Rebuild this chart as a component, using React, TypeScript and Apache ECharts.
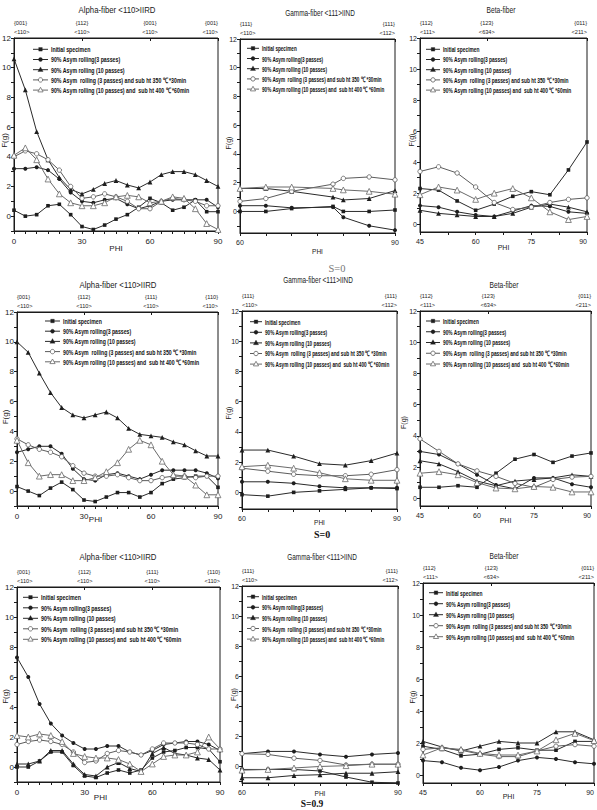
import React, { useEffect, useRef } from "react";
import * as echarts from "echarts";

// ---- legend / series names ----
const SERIES_NAMES = [
  "Initial specimen",
  "90% Asym rolling(3 passes)",
  "90% Asym rolling (10 passes)",
  "90% Asym  rolling (3 passes) and sub ht 350 ℃ *30min",
  "90% Asym rolling (10 passes) and  sub ht 400 ℃ *60min",
];

// ---- PHI positions ----
const ALPHA_PHI = [0, 5, 10, 15, 20, 25, 30, 35, 40, 45, 50, 55, 60, 65, 70, 75, 80, 85, 90];
const GAMMA_PHI = [60, 65, 70, 75, 80, 85, 90];
const GAMMA_PHI_FIRST = [60, 65, 70, 78, 80, 85, 90];
const BETA_PHI = [45, 50, 55, 60, 65, 70, 75, 80, 85, 90];

// ---- tick / label values ----
const ALPHA_TICKS = [0, 5, 10, 15, 20, 25, 30, 35, 40, 45, 50, 55, 60, 65, 70, 75, 80, 85, 90];
const ALPHA_LABELS = [0, 30, 60, 90];
const GAMMA_TICKS = [60, 65, 70, 75, 80, 85, 90];
const GAMMA_LABELS = [60, 90];
const BETA_TICKS = [45, 52.5, 60, 67.5, 75, 82.5, 90];
const BETA_LABELS = [45, 60, 75, 90];
const Y_TICKS = [-1, 0, 1, 2, 3, 4, 5, 6, 7, 8, 9, 10, 11, 12];
const Y_LABELS = [0, 2, 4, 6, 8, 10, 12];

// ---- orientation labels on the top axes ----
const ALPHA_TOP_POS = [0, 30, 60, 90];
const ALPHA_TOP_FIRST = ["{001}\n<110>", "{112}\n<110>", "{001}\n<110>", "{001}\n<110>"];
const ALPHA_TOP = ["{001}\n<110>", "{112}\n<110>", "{111}\n<110>", "{110}\n<110>"];
const GAMMA_TOP_POS = [60, 90];
const GAMMA_TOP = ["{111}\n<110>", "{111}\n<112>"];
const BETA_TOP_POS = [45, 63, 90];
const BETA_TOP = ["{112}\n<111>", "{123}\n<634>", "{011}\n<211>"];

// ---- F(g), first row ----
const a1Initial = [0.4, 0.0, 0.1, 0.7, 0.8, 0.1, -0.7, -0.9, -0.6, -0.2, 0.1, 0.6, 1.2, 0.9, 0.4, 0.6, 1.1, 0.3, 0.3];
const a1Pass3 = [3.2, 3.2, 3.3, 3.1, 2.5, 1.6, 1.0, 0.9, 1.1, 1.2, 0.8, 0.5, 0.7, 1.0, 1.1, 1.1, 1.1, 1.1, 0.6];
const a1Pass10 = [10.6, 8.5, 5.7, 3.8, 2.6, 1.8, 1.5, 1.8, 2.2, 2.4, 2.1, 1.9, 2.3, 2.8, 3.0, 3.0, 2.8, 2.4, 2.0];
const a1Pass3Ht = [4.0, 4.4, 4.2, 3.8, 3.1, 2.0, 1.2, 1.3, 1.5, 1.3, 1.0, 0.5, 0.5, 1.0, 1.2, 1.1, 1.0, 0.7, 0.7];
const a1Pass10Ht = [4.1, 4.6, 3.8, 2.5, 1.5, 0.9, 0.7, 0.7, 0.9, 1.3, 1.4, 1.3, 0.9, 1.0, 1.3, 1.2, 0.5, -0.5, -0.9];

const g1Initial = [0.0, 0.0, 0.2, 0.35, 0.0, 0.0, 0.1];
const g1Pass3 = [0.4, 0.4, 0.25, 0.3, -0.4, -1.0, -1.3];
const g1Pass10 = [1.6, 1.6, 1.4, 1.0, 0.8, 0.9, 1.45];
const g1Pass3Ht = [0.7, 0.9, 1.4, 1.9, 2.3, 2.4, 2.2];
const g1Pass10Ht = [1.6, 1.7, 1.7, 1.6, 1.5, 1.4, 1.2];

const b1Initial = [2.3, 2.2, 1.5, 0.9, 1.3, 1.8, 2.1, 1.9, 3.5, 5.3];
const b1Pass3 = [1.2, 1.1, 0.8, 0.6, 0.5, 0.85, 1.2, 1.15, 0.8, 0.7];
const b1Pass10 = [0.9, 0.7, 0.6, 0.5, 0.5, 0.7, 1.1, 1.3, 1.1, 0.8];
const b1Pass3Ht = [3.4, 3.7, 3.3, 2.4, 1.4, 0.95, 1.1, 1.4, 1.6, 1.7];
const b1Pass10Ht = [1.9, 2.4, 2.2, 1.6, 2.0, 2.3, 1.7, 0.8, 0.3, 0.5];

// ---- F(g), second row ----
const a2Initial = [0.3, 0.0, -0.3, 0.2, 0.6, 0.1, -0.6, -0.7, -0.4, -0.1, -0.1, -0.4, -0.1, 0.5, 0.8, 0.9, 1.0, 1.0, 0.25];
const a2Pass3 = [2.6, 2.8, 3.0, 3.0, 2.5, 1.5, 0.8, 0.7, 1.1, 1.2, 1.0, 0.8, 1.1, 1.4, 1.4, 1.4, 1.4, 1.2, 0.85];
const a2Pass10 = [10.0, 9.3, 7.9, 6.6, 5.6, 5.1, 4.9, 5.1, 5.3, 4.9, 4.2, 3.8, 3.7, 3.6, 3.3, 3.1, 2.7, 2.35, 2.35];
const a2Pass3Ht = [3.5, 3.1, 2.8, 2.6, 2.3, 1.7, 1.2, 1.0, 1.0, 1.1, 0.9, 0.7, 0.7, 0.9, 1.0, 1.0, 0.9, 1.0, 1.0];
const a2Pass10Ht = [3.4, 1.9, 1.0, 1.1, 1.1, 0.7, 0.7, 0.9, 1.3, 1.9, 2.8, 3.4, 3.1, 2.0, 1.1, 1.0, 0.4, -0.25, -0.25];

const g2Initial = [-0.15, -0.25, 0.0, 0.1, 0.2, 0.3, 0.25];
const g2Pass3 = [0.7, 0.7, 0.6, 0.4, 0.3, 0.3, 0.3];
const g2Pass10 = [2.8, 2.8, 2.4, 1.9, 1.8, 2.1, 2.6];
const g2Pass3Ht = [1.6, 1.4, 1.2, 1.1, 1.1, 1.2, 1.5];
const g2Pass10Ht = [1.7, 1.8, 1.6, 1.3, 0.9, 0.8, 0.8];

const b2Initial = [0.7, 0.7, 0.8, 0.7, 1.6, 2.5, 2.8, 2.3, 2.7, 2.9];
const b2Pass3 = [3.0, 2.8, 2.2, 1.5, 0.85, 0.6, 1.3, 1.3, 0.9, 0.7];
const b2Pass10 = [2.4, 2.2, 1.7, 1.1, 0.8, 1.1, 1.2, 1.3, 1.5, 1.4];
const b2Pass3Ht = [3.8, 3.0, 2.2, 1.75, 1.4, 0.95, 0.7, 1.2, 1.35, 1.4];
const b2Pass10Ht = [1.6, 1.7, 1.5, 1.0, 0.65, 0.6, 0.75, 0.7, 0.4, 0.4];

// ---- F(g), third row ----
const a3Initial = [0.0, 0.0, 0.4, 1.0, 1.0, 0.1, -0.6, -0.7, -0.4, -0.2, -0.4, -0.2, 0.6, 1.0, 1.1, 1.3, 1.3, 1.2, 0.35];
const a3Pass3 = [7.3, 6.0, 4.2, 2.9, 2.1, 1.6, 1.2, 1.2, 1.4, 1.4, 1.0, 0.8, 1.1, 1.5, 1.6, 1.7, 1.7, 1.5, 1.1];
const a3Pass10 = [0.2, 0.2, 0.4, 1.1, 1.1, 0.2, -0.5, -0.6, 0.0, 0.3, -0.1, -0.3, 0.9, 1.3, 0.9, 0.8, 0.6, 0.5, -0.2];
const a3Pass3Ht = [1.5, 1.7, 1.8, 1.7, 1.5, 1.0, 0.3, 0.4, 0.9, 1.1, 1.0, 0.8, 1.2, 1.6, 1.6, 1.6, 1.5, 1.2, 1.2];
const a3Pass10Ht = [2.1, 2.0, 2.2, 2.1, 1.7, 0.9, 0.7, 0.6, 0.6, 0.5, 0.2, -0.3, 0.2, 0.7, 0.8, 0.8, 1.0, 2.0, 1.2];

const g3Initial = [-0.2, -0.2, -0.2, -0.3, -0.7, -1.05, -1.1];
const g3Pass3 = [0.85, 1.0, 1.0, 0.8, 0.65, 0.8, 0.9];
const g3Pass10 = [-0.75, -0.75, -0.6, -0.55, -0.45, -0.45, -0.35];
const g3Pass3Ht = [0.85, 0.8, 0.55, 0.4, 0.1, 0.15, 0.15];
const g3Pass10Ht = [-0.25, -0.2, -0.1, 0.0, 0.05, 0.15, 0.15];

const b3Initial = [1.8, 1.6, 1.2, 1.3, 1.6, 1.7, 1.55, 1.55, 2.1, 2.1];
const b3Pass3 = [0.9, 0.8, 0.45, 0.3, 0.5, 0.9, 1.1, 1.0, 0.8, 0.7];
const b3Pass10 = [2.1, 1.75, 1.5, 1.8, 2.1, 2.0, 2.0, 2.7, 2.7, 2.2];
const b3Pass3Ht = [1.6, 1.7, 1.55, 1.3, 1.15, 1.15, 1.5, 1.8, 1.9, 1.8];
const b3Pass10Ht = [1.25, 1.7, 1.6, 1.35, 1.25, 1.25, 1.5, 2.2, 2.6, 2.15];

// ---- styling ----
const INK = "#1b1b1b";
const FONT = "'Liberation Sans', Arial, Helvetica, sans-serif";
const SERIF = "'Liberation Serif', 'Times New Roman', 'DejaVu Serif', serif";

const SERIES_STYLES = [
  { symbol: "rect", size: 3.6, color: "#1e1e1e", line: "#2a2a2a", open: false },
  { symbol: "circle", size: 4, color: "#1e1e1e", line: "#2a2a2a", open: false },
  { symbol: "triangle", size: 4.8, color: "#1e1e1e", line: "#2a2a2a", open: false },
  { symbol: "circle", size: 4.4, color: "#5c5c5c", line: "#5c5c5c", open: true },
  { symbol: "triangle", size: 5.8, color: "#6a6a6a", line: "#6a6a6a", open: true },
];

type Panel = {
  x: number[];
  values: number[][];
  xMin: number;
  xMax: number;
  yMin: number;
  xTicks: number[];
  xLabels: number[];
  topPos: number[];
  topText: string[];
  box: number[];
  // key: line-sample left, first row centre, row step, sample length, text scale
  key: number[];
  tickFont: number;
  nameFont: number;
  // axis names: [yNameGap, yNameShiftDown, xNameGap, xNameShiftLeft]
  names: number[];
};

const alphaPanel = (values: number[][], topText: string[], yMin: number, box: number[], key: number[], names: number[]): Panel => ({
  x: ALPHA_PHI, values, xMin: 0, xMax: 90, yMin, xTicks: ALPHA_TICKS, xLabels: ALPHA_LABELS,
  topPos: ALPHA_TOP_POS, topText, box, key, tickFont: 8, nameFont: 8, names,
});
const gammaPanel = (x: number[], values: number[][], yMin: number, box: number[], key: number[], names: number[]): Panel => ({
  x, values, xMin: 60, xMax: 90, yMin, xTicks: GAMMA_TICKS, xLabels: GAMMA_LABELS,
  topPos: GAMMA_TOP_POS, topText: GAMMA_TOP, box, key, tickFont: 7, nameFont: 6.5, names,
});
const betaPanel = (values: number[][], yMin: number, box: number[], key: number[], names: number[]): Panel => ({
  x: BETA_PHI, values, xMin: 45, xMax: 90, yMin, xTicks: BETA_TICKS, xLabels: BETA_LABELS,
  topPos: BETA_TOP_POS, topText: BETA_TOP, box, key, tickFont: 7, nameFont: 7, names,
});

const PANELS: Panel[] = [
  alphaPanel([a1Initial, a1Pass3, a1Pass10, a1Pass3Ht, a1Pass10Ht], ALPHA_TOP_FIRST, -1, [14, 38, 204, 193], [33, 49.3, 10.2, 15, 0.7], [6, 6, 13, 0]),
  gammaPanel(GAMMA_PHI_FIRST, [g1Initial, g1Pass3, g1Pass10, g1Pass3Ht, g1Pass10Ht], -1.5, [240, 39, 155, 194], [247, 48.3, 10.2, 12, 0.62], [8, 7, 15, 0]),
  betaPanel([b1Initial, b1Pass3, b1Pass10, b1Pass3Ht, b1Pass10Ht], -0.5, [420, 38, 167, 194], [426, 49.3, 10.2, 14, 0.65], [5, 5, 12, 0]),
  alphaPanel([a2Initial, a2Pass3, a2Pass10, a2Pass3Ht, a2Pass10Ht], ALPHA_TOP, -1, [17, 312, 201, 194], [45, 321, 10.2, 15, 0.69], [8, 8, 9, 22]),
  gammaPanel(GAMMA_PHI, [g2Initial, g2Pass3, g2Pass10, g2Pass3Ht, g2Pass10Ht], -1.1, [242, 311, 155, 198], [250, 321.7, 10.6, 12, 0.63], [10, 3, 10, 0]),
  betaPanel([b2Initial, b2Pass3, b2Pass10, b2Pass3Ht, b2Pass10Ht], -0.5, [420, 311, 171, 195], [426, 321, 10.75, 14, 0.64], [13, 14, 11, 0]),
  alphaPanel([a3Initial, a3Pass3, a3Pass10, a3Pass3Ht, a3Pass10Ht], ALPHA_TOP, -1, [17, 587, 203, 195], [23, 597.3, 10.5, 15, 0.71], [8, 12, 11, 18]),
  gammaPanel(GAMMA_PHI, [g3Initial, g3Pass3, g3Pass10, g3Pass3Ht, g3Pass10Ht], -1.1, [242, 586, 156, 197], [247, 596.7, 10.6, 12, 0.62], [5, 10, 7, 0]),
  betaPanel([b3Initial, b3Pass3, b3Pass10, b3Pass3Ht, b3Pass10Ht], -0.5, [423, 583, 171, 200], [429, 592.7, 11, 14, 0.65], [7, 14, 10, 0]),
];

// panel headings and row captions
const HEADINGS = [
  { text: "Alpha-fiber <110>IIRD", x: 117, y: 10, size: 9.5, sx: 0.82 },
  { text: "Gamma-fiber <111>IIND", x: 320, y: 13, size: 8.5, sx: 0.76 },
  { text: "Beta-fiber", x: 501, y: 10, size: 9, sx: 0.74 },
  { text: "Alpha-fiber <110>IIRD", x: 118, y: 285, size: 9.5, sx: 0.82 },
  { text: "Gamma-fiber <111>IIND", x: 318, y: 280, size: 8.5, sx: 0.76 },
  { text: "Beta-fiber", x: 504, y: 285, size: 9, sx: 0.74 },
  { text: "Alpha-fiber <110>IIRD", x: 118, y: 557, size: 9.5, sx: 0.82 },
  { text: "Gamma-fiber <111>IIND", x: 322, y: 557, size: 8.5, sx: 0.76 },
  { text: "Beta-fiber", x: 504, y: 556, size: 9, sx: 0.74 },
];
const CAPTIONS = [
  { text: "S=0", x: 337, y: 268, bold: false, color: "#777", size: 10.5 },
  { text: "S=0", x: 322, y: 534, bold: true, color: "#111", size: 10 },
  { text: "S=0.9", x: 312, y: 804, bold: true, color: "#111", size: 9.5 },
];

// key sample marker, drawn on its line sample
function keyMarker(s: number, cx: number, cy: number) {
  const st = SERIES_STYLES[s];
  const style = st.open
    ? { fill: "#fff", stroke: st.color, lineWidth: 0.8 }
    : { fill: st.color, stroke: st.color, lineWidth: 0.3 };
  if (st.symbol === "rect") return { type: "rect", shape: { x: cx - 1.8, y: cy - 1.8, width: 3.6, height: 3.6 }, style };
  if (st.symbol === "circle") return { type: "circle", shape: { cx, cy, r: st.open ? 2.2 : 2 }, style };
  return { type: "polygon", shape: { points: [[cx, cy - 2.8], [cx + 2.6, cy + 1.8], [cx - 2.6, cy + 1.8]] }, style };
}

function buildOption() {
  const grid: any[] = [];
  const xAxis: any[] = [];
  const yAxis: any[] = [];
  const series: any[] = [];
  const graphic: any[] = [];
  const axisLine = { show: true, onZero: false, lineStyle: { color: INK, width: 1 } };

  PANELS.forEach((p, i) => {
    const [left, top, width, height] = p.box;
    const [yGap, yShift, xGap, xShift] = p.names;
    const nearEdge = left + width > 585;
    grid.push({
      left, top, width, height, show: true, borderColor: INK, borderWidth: 1,
      containLabel: false, outerBoundsMode: "none",
    });

    xAxis.push({
      gridIndex: i, type: "value", position: "bottom", min: p.xMin, max: p.xMax,
      axisLine, splitLine: { show: false },
      axisTick: { show: true, length: 3, customValues: p.xTicks, lineStyle: { color: INK } },
      axisLabel: {
        customValues: p.xLabels, fontSize: p.tickFont, color: INK, margin: 6, fontFamily: FONT,
        alignMaxLabel: nearEdge ? "right" : "center",
      },
      name: "PHI", nameLocation: "middle", nameGap: xGap, nameMoveOverlap: false,
      nameTextStyle: { fontSize: p.nameFont, color: INK, fontFamily: FONT, padding: [0, 2 * xShift, 0, 0] },
    });
    xAxis.push({
      gridIndex: i, type: "value", position: "top", min: p.xMin, max: p.xMax,
      axisLine, splitLine: { show: false },
      axisTick: { show: true, inside: true, length: 3, customValues: p.topPos, lineStyle: { color: INK } },
      axisLabel: {
        customValues: p.topPos, fontSize: 5.6, lineHeight: 8.5, color: INK, margin: 2, fontFamily: FONT,
        alignMinLabel: "left", alignMaxLabel: "right",
        formatter: (v: number) => {
          const k = p.topPos.findIndex((t) => Math.abs(t - v) < 1e-6);
          return k >= 0 ? p.topText[k] : "";
        },
      },
    });
    yAxis.push({
      gridIndex: i, type: "value", min: p.yMin, max: 12,
      axisLine, splitLine: { show: false },
      axisTick: { show: true, length: 3, customValues: Y_TICKS.filter((t) => t >= p.yMin), lineStyle: { color: INK } },
      axisLabel: { customValues: Y_LABELS, fontSize: p.tickFont, color: INK, margin: 3, fontFamily: FONT },
      name: "F(g)", nameLocation: "middle", nameGap: yGap, nameMoveOverlap: false,
      nameTextStyle: { fontSize: p.tickFont, color: INK, fontFamily: FONT, padding: [0, 2 * yShift, 0, 0] },
    });

    p.values.forEach((vals, s) => {
      const st = SERIES_STYLES[s];
      series.push({
        type: "line", name: SERIES_NAMES[s], xAxisIndex: i * 2, yAxisIndex: i,
        data: p.x.map((x, k) => [x, vals[k]]),
        symbol: st.symbol, symbolSize: st.size, showSymbol: true,
        lineStyle: { color: st.line, width: 1 },
        itemStyle: st.open
          ? { color: "#ffffff", borderColor: st.color, borderWidth: 0.8 }
          : { color: st.color, borderWidth: 0 },
        silent: true, clip: false, z: 3 + s,
      });
    });

    // series key inside the panel: line sample, marker and condensed bold text
    const [kx, ky, step, len, sx] = p.key;
    const children: any[] = [];
    SERIES_NAMES.forEach((name, s) => {
      const y = ky + s * step;
      const st = SERIES_STYLES[s];
      children.push({ type: "line", shape: { x1: kx, y1: y, x2: kx + len, y2: y }, style: { stroke: st.line, lineWidth: 1 } });
      children.push(keyMarker(s, kx + len / 2, y));
      children.push({
        type: "text", x: kx + len + 3, y, scaleX: sx,
        style: { text: name, font: `bold 7.5px ${FONT}`, fill: "#111", textAlign: "left", textVerticalAlign: "middle" },
      });
    });
    graphic.push({ type: "group", silent: true, children });
  });

  HEADINGS.forEach((h) => {
    graphic.push({
      type: "text", x: h.x, y: h.y, scaleX: h.sx, silent: true,
      style: { text: h.text, font: `${h.size}px ${FONT}`, fill: INK, textAlign: "center", textVerticalAlign: "middle" },
    });
  });
  CAPTIONS.forEach((c) => {
    graphic.push({
      type: "text", x: c.x, y: c.y, silent: true,
      style: { text: c.text, font: `${c.bold ? "bold " : ""}${c.size}px ${SERIF}`, fill: c.color, textAlign: "center", textVerticalAlign: "middle" },
    });
  });

  return {
    animation: false,
    backgroundColor: "#ffffff",
    textStyle: { fontFamily: FONT },
    grid, xAxis, yAxis, series, graphic,
  };
}

export default function App() {
  const ref = useRef<HTMLDivElement>(null);
  useEffect(() => {
    if (!ref.current) return;
    const chart = echarts.init(ref.current, null, { renderer: "svg" });
    chart.setOption(buildOption());
    return () => chart.dispose();
  }, []);
  return (
    <div
      ref={ref}
      style={{ position: "absolute", left: 0, top: 0, width: 597, height: 810, background: "#fff" }}
    />
  );
}
